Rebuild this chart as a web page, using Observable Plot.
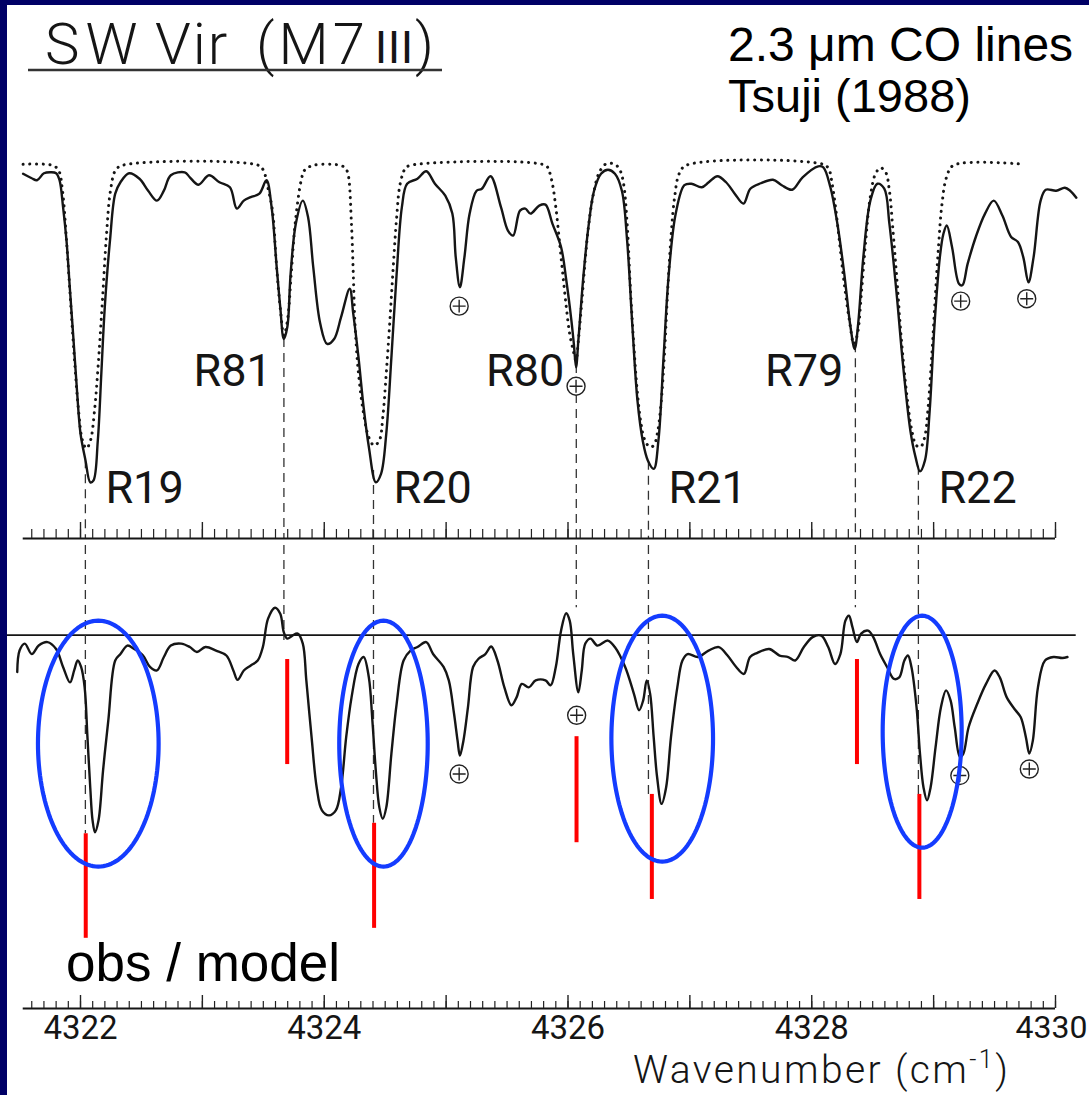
<!DOCTYPE html>
<html><head><meta charset="utf-8">
<script src="https://cdn.jsdelivr.net/npm/d3@7"></script>
<script src="https://cdn.jsdelivr.net/npm/@observablehq/plot@0.6"></script>
<style>
body{margin:0;background:#fff}
#page{position:relative;width:1089px;height:1095px;background:#fff;overflow:hidden}
#topPanel,#botPanel,#overlay{position:absolute;left:0;width:1089px}
#topPanel{top:130px}#botPanel{top:545px}#overlay{top:0;pointer-events:none}
#topPanel svg,#botPanel svg{overflow:visible;background:transparent}
.navy{position:absolute;background:#000066;z-index:5}
</style></head><body>
<div id="page">
<div id="topPanel"></div><div id="botPanel"></div>
<svg id="overlay" width="1089" height="1095"></svg>
<div class="navy" style="left:0;top:0;width:1089px;height:5px"></div>
<div class="navy" style="left:0;top:0;width:7px;height:1095px"></div>
</div>
<script>
// ---- CO line identifications ----
const lineNames = ["R19","R81","R20","R80","R21","R79","R22"];
const lineJ = [19,81,20,80,21,79,22];
const lineWn = [4322.04,4323.669,4324.404,4326.068,4326.66,4328.358,4328.875];
// red obs/model markers (ratio units)
const redWn = [4322.043,4323.696,4324.409,4326.070,4326.688,4328.371,4328.883];
const redTop = [0.601,0.951,0.622,0.796,0.680,0.951,0.680];
const redBottom = [0.391,0.740,0.411,0.583,0.469,0.740,0.469];
const dashBottom = [0.601,0.989,0.622,1.055,0.680,1.055,0.680];
// highlighted low-J lines (blue rings)
const ringWn = [4322.146,4324.486,4326.773,4328.906];
const ringRatio = [0.782,0.782,0.792,0.806];
const ringHalfWidth = [0.495,0.363,0.417,0.324];
const ringHalfHeight = [0.247,0.247,0.247,0.233];
// telluric lines
const tellTopWn = [4325.107,4326.066,4329.222,4329.764];
const tellTopFlux = [0.717,0.556,0.727,0.732];
const tellBotWn = [4325.107,4326.071,4329.215,4329.785];
const tellBotRatio = [0.721,0.839,0.718,0.731];
// axis ticks
const labelTicks = [4322,4324,4326,4328,4330];

// observed spectrum (top)
const obsWn = [4321.529,4321.600,4321.643,4321.700,4321.757,4321.800,4321.828,4321.857,4321.885,4321.914,
4321.943,4321.971,4322.000,4322.041,4322.080,4322.107,4322.142,4322.171,4322.199,4322.242,
4322.285,4322.328,4322.399,4322.484,4322.555,4322.627,4322.684,4322.741,4322.855,4322.897,
4322.968,4323.054,4323.140,4323.226,4323.283,4323.340,4323.397,4323.468,4323.526,4323.568,
4323.610,4323.639,4323.668,4323.697,4323.724,4323.767,4323.824,4323.867,4323.910,4323.967,
4324.024,4324.081,4324.138,4324.209,4324.238,4324.281,4324.323,4324.366,4324.423,4324.466,
4324.509,4324.551,4324.594,4324.637,4324.680,4324.765,4324.837,4324.908,4324.993,4325.051,
4325.079,4325.113,4325.150,4325.193,4325.250,4325.293,4325.364,4325.450,4325.507,4325.550,
4325.606,4325.650,4325.692,4325.764,4325.815,4325.872,4325.943,4325.986,4326.028,4326.048,
4326.066,4326.085,4326.128,4326.171,4326.214,4326.271,4326.328,4326.385,4326.442,4326.485,
4326.527,4326.570,4326.613,4326.655,4326.704,4326.742,4326.784,4326.827,4326.884,4326.955,
4327.012,4327.098,4327.155,4327.226,4327.297,4327.368,4327.440,4327.496,4327.582,4327.682,
4327.754,4327.839,4327.925,4328.053,4328.095,4328.153,4328.210,4328.267,4328.318,4328.352,
4328.381,4328.423,4328.481,4328.538,4328.595,4328.637,4328.694,4328.751,4328.809,4328.851,
4328.888,4328.929,4328.966,4329.008,4329.051,4329.080,4329.108,4329.151,4329.208,4329.236,
4329.279,4329.350,4329.422,4329.493,4329.564,4329.636,4329.692,4329.736,4329.778,4329.820,
4329.878,4329.920,4330.006,4330.077,4330.120,4330.171];
const obsFlux = [0.983,0.974,0.970,0.984,0.986,0.984,0.970,0.916,0.849,0.748,
0.648,0.548,0.461,0.407,0.363,0.367,0.447,0.582,0.714,0.849,
0.943,0.966,0.984,0.973,0.949,0.929,0.949,0.980,0.986,0.976,
0.961,0.980,0.966,0.956,0.913,0.929,0.936,0.943,0.970,0.916,
0.795,0.715,0.651,0.675,0.782,0.883,0.929,0.896,0.795,0.682,
0.641,0.651,0.695,0.752,0.702,0.614,0.514,0.434,0.363,0.380,
0.461,0.614,0.782,0.916,0.963,0.973,0.988,0.963,0.939,0.903,
0.815,0.755,0.815,0.903,0.949,0.953,0.978,0.916,0.869,0.859,
0.909,0.913,0.903,0.919,0.921,0.883,0.836,0.769,0.688,0.641,
0.594,0.648,0.782,0.883,0.949,0.983,0.991,0.983,0.949,0.849,
0.682,0.527,0.447,0.407,0.390,0.447,0.614,0.782,0.903,0.960,
0.963,0.956,0.966,0.978,0.966,0.943,0.923,0.953,0.964,0.971,
0.960,0.951,0.976,0.998,0.996,0.956,0.883,0.782,0.675,0.631,
0.682,0.815,0.929,0.963,0.953,0.883,0.748,0.594,0.467,0.414,
0.385,0.407,0.501,0.682,0.815,0.862,0.879,0.836,0.762,0.759,
0.802,0.859,0.903,0.929,0.899,0.856,0.846,0.815,0.765,0.815,
0.929,0.951,0.949,0.955,0.949,0.935];

// model spectrum (dotted)
const modelWn = [4321.529,4321.770,4321.820,4321.852,4321.885,4321.918,4321.951,4321.984,4322.016,4322.049,
4322.082,4322.115,4322.148,4322.180,4322.213,4322.246,4322.287,4322.345,4323.460,4323.501,
4323.534,4323.575,4323.608,4323.641,4323.669,4323.698,4323.731,4323.764,4323.811,4323.838,
4323.910,4324.133,4324.174,4324.195,4324.223,4324.238,4324.252,4324.281,4324.323,4324.366,
4324.409,4324.452,4324.480,4324.509,4324.537,4324.566,4324.594,4324.623,4324.666,4324.707,
4325.815,4325.843,4325.872,4325.900,4325.929,4325.957,4325.986,4326.014,4326.043,4326.066,
4326.085,4326.114,4326.143,4326.171,4326.214,4326.257,4326.313,4326.385,4326.427,4326.456,
4326.485,4326.513,4326.541,4326.570,4326.599,4326.627,4326.670,4326.704,4326.733,4326.761,
4326.790,4326.818,4326.847,4326.875,4326.912,4326.970,4328.095,4328.139,4328.167,4328.195,
4328.232,4328.267,4328.309,4328.346,4328.375,4328.409,4328.443,4328.480,4328.523,4328.565,
4328.607,4328.637,4328.664,4328.699,4328.736,4328.779,4328.821,4328.858,4328.893,4328.927,
4328.955,4328.984,4329.012,4329.040,4329.069,4329.106,4329.163,4329.747];
const modelFlux = [1.002,1.000,0.990,0.949,0.849,0.728,0.608,0.507,0.447,0.431,
0.447,0.507,0.608,0.728,0.859,0.949,0.990,1.000,1.000,0.990,
0.959,0.909,0.799,0.708,0.658,0.688,0.789,0.889,0.970,0.990,
1.000,1.000,0.994,0.983,0.883,0.783,0.682,0.582,0.501,0.453,
0.437,0.447,0.493,0.582,0.682,0.795,0.895,0.963,0.994,1.000,
1.000,0.990,0.963,0.916,0.849,0.782,0.715,0.661,0.628,0.608,
0.648,0.728,0.815,0.883,0.949,0.986,1.003,1.002,0.990,0.963,
0.883,0.748,0.635,0.541,0.481,0.450,0.434,0.437,0.461,0.514,
0.614,0.748,0.862,0.936,0.983,1.000,1.002,0.993,0.963,0.916,
0.836,0.762,0.688,0.641,0.661,0.748,0.849,0.936,0.983,0.995,
0.986,0.949,0.876,0.769,0.648,0.541,0.467,0.437,0.434,0.454,
0.514,0.614,0.728,0.836,0.923,0.976,1.000,1.002];

// obs / model ratio (bottom)
const ratioWn = [4321.481,4321.500,4321.543,4321.600,4321.657,4321.729,4321.800,4321.857,4321.914,4321.948,
4321.977,4322.005,4322.034,4322.057,4322.080,4322.099,4322.119,4322.148,4322.185,4322.228,
4322.285,4322.328,4322.385,4322.441,4322.513,4322.570,4322.627,4322.684,4322.741,4322.826,
4322.897,4322.955,4323.025,4323.112,4323.197,4323.254,4323.289,4323.340,4323.397,4323.454,
4323.496,4323.539,4323.596,4323.639,4323.668,4323.697,4323.739,4323.782,4323.824,4323.853,
4323.896,4323.938,4323.981,4324.039,4324.095,4324.138,4324.180,4324.224,4324.281,4324.323,
4324.366,4324.395,4324.423,4324.452,4324.480,4324.509,4324.551,4324.594,4324.651,4324.708,
4324.765,4324.837,4324.893,4324.979,4325.022,4325.065,4325.094,4325.113,4325.142,4325.179,
4325.221,4325.264,4325.322,4325.370,4325.421,4325.478,4325.536,4325.578,4325.621,4325.678,
4325.735,4325.815,4325.857,4325.900,4325.943,4325.985,4326.014,4326.043,4326.085,4326.113,
4326.142,4326.185,4326.241,4326.327,4326.384,4326.469,4326.541,4326.583,4326.617,4326.646,
4326.674,4326.703,4326.731,4326.768,4326.805,4326.845,4326.897,4326.939,4326.982,4327.067,
4327.153,4327.238,4327.309,4327.380,4327.443,4327.494,4327.550,4327.651,4327.736,4327.807,
4327.864,4327.935,4328.007,4328.078,4328.135,4328.191,4328.235,4328.276,4328.305,4328.334,
4328.371,4328.405,4328.462,4328.505,4328.561,4328.618,4328.675,4328.718,4328.760,4328.789,
4328.818,4328.860,4328.888,4328.917,4328.946,4328.975,4329.016,4329.060,4329.102,4329.139,
4329.173,4329.216,4329.244,4329.287,4329.358,4329.430,4329.500,4329.543,4329.600,4329.672,
4329.715,4329.757,4329.785,4329.814,4329.856,4329.914,4329.984,4330.056,4330.098];
const ratioVal = [0.926,0.969,0.983,0.962,0.979,0.986,0.972,0.936,0.905,0.929,
0.949,0.936,0.895,0.795,0.694,0.628,0.604,0.628,0.728,0.828,
0.949,0.962,0.979,0.972,0.959,0.936,0.929,0.956,0.979,0.983,
0.976,0.966,0.976,0.969,0.959,0.929,0.910,0.929,0.939,0.949,
0.976,1.033,1.055,1.043,1.006,0.993,0.999,1.003,0.983,0.909,
0.795,0.694,0.648,0.638,0.648,0.694,0.795,0.875,0.942,0.956,
0.915,0.828,0.728,0.654,0.631,0.654,0.762,0.862,0.949,0.969,
0.976,0.986,0.962,0.936,0.909,0.842,0.788,0.758,0.788,0.855,
0.936,0.952,0.962,0.977,0.949,0.895,0.859,0.875,0.902,0.895,
0.909,0.909,0.899,0.936,1.009,1.044,1.029,0.962,0.885,0.929,
0.983,0.993,0.979,0.989,0.976,0.936,0.882,0.849,0.869,0.909,
0.882,0.795,0.715,0.661,0.694,0.795,0.895,0.949,0.962,0.956,
0.969,0.976,0.959,0.936,0.922,0.956,0.964,0.972,0.959,0.956,
0.949,0.976,0.996,0.999,0.976,0.942,0.962,1.029,1.039,1.016,
0.986,1.003,1.009,0.996,0.962,0.936,0.912,0.915,0.949,0.959,
0.936,0.855,0.762,0.694,0.668,0.694,0.775,0.855,0.889,0.869,
0.815,0.755,0.762,0.815,0.862,0.902,0.929,0.915,0.875,0.849,
0.835,0.795,0.762,0.788,0.895,0.949,0.956,0.954,0.956];

// ---- build tables ----
const obs = obsWn.map((wn,i)=>({wn, f: obsFlux[i]}));
const model = modelWn.map((wn,i)=>({wn, f: modelFlux[i]}));
const ratio = ratioWn.map((wn,i)=>({wn, r: ratioVal[i]}));
function obsAt(w){
  const i = d3.bisector(d=>d.wn).left(obs, w);
  if (i<=0) return obs[0].f; if (i>=obs.length) return obs[obs.length-1].f;
  const a=obs[i-1], b=obs[i]; const t=(w-a.wn)/(b.wn-a.wn); return a.f+t*(b.f-a.f);
}
const lines = lineNames.map((name,i)=>({name, wn: lineWn[i], J: lineJ[i], top: obsAt(lineWn[i]),
  redWn: redWn[i], redTop: redTop[i], redBottom: redBottom[i], dashBottom: dashBottom[i]}));
const lowJ = lines.filter(d=>d.J<50), highJ = lines.filter(d=>d.J>=50);
const rings = ringWn.flatMap((cx,i)=>d3.range(0,145).map(k=>{const a=k/144*2*Math.PI;
  return {id:i, wn: cx+ringHalfWidth[i]*Math.cos(a), r: ringRatio[i]+ringHalfHeight[i]*Math.sin(a)};}));
const tellTop = tellTopWn.map((wn,i)=>({wn, f: tellTopFlux[i]}));
const tellBot = tellBotWn.map((wn,i)=>({wn, r: tellBotRatio[i]}));
const minorTicks = d3.range(43216,43301).map(d=>d/10);
const majorTicks = d3.range(4322,4331);
const innerLabels = labelTicks.slice(0,-1), edgeLabel = labelTicks.slice(-1);

const circledPlus = {draw(ctx,size){const r=Math.sqrt(size/Math.PI);ctx.moveTo(r,0);ctx.arc(0,0,r,0,2*Math.PI);ctx.closePath();
  const a=r*0.72;ctx.moveTo(-a,0);ctx.lineTo(a,0);ctx.moveTo(0,-a);ctx.lineTo(0,a);}};

const ink = "#151515";
const font = "Roboto, 'DejaVu Sans', sans-serif";
const common = {width:1089, marginLeft:80, marginRight:34,
  x:{domain:[4322,4330], axis:null, label:null},
  style:{fontFamily:font, fontWeight:400, background:"transparent", overflow:"visible", color:ink}};

// ---- top panel: observed + model ----
const topH = 415, topMB = 7, topInner = topH - topMB;
const topPlot = Plot.plot({...common, height: topH, marginTop:0, marginBottom: topMB,
  y:{domain:[0.25,1.07], axis:null, label:null},
  marks:[
    Plot.ruleX(lines, {x:"wn", y1:"top", y2:0.25, stroke:"#333", strokeWidth:1.3, strokeDasharray:"9,6"}),
    Plot.line(model, {x:"wn", y:"f", curve:"catmull-rom", stroke:ink, strokeWidth:3, strokeDasharray:"0.1,6.6", strokeLinecap:"round"}),
    Plot.line(obs, {x:"wn", y:"f", curve:"catmull-rom", stroke:ink, strokeWidth:2.4}),
    Plot.dot(tellTop, {x:"wn", y:"f", r:9, symbol:circledPlus, fill:"white", stroke:"#222", strokeWidth:1.4}),
    Plot.text(lowJ, {x:"wn", y:()=>0.322, text:"name", textAnchor:"start", lineAnchor:"bottom", dx:20, fontSize:45, fill:ink}),
    Plot.text(highJ, {x:"wn", y:()=>0.557, text:"name", textAnchor:"end", lineAnchor:"bottom", dx:-12, fontSize:45, fill:ink}),
    Plot.ruleY([0.25], {x1:4321.53, x2:4330.0, stroke:ink, strokeWidth:2}),
    Plot.tickX(minorTicks, {x:d=>d, insetTop: topInner-9, stroke:"#222", strokeWidth:1.2}),
    Plot.tickX(majorTicks, {x:d=>d, insetTop: topInner-16, stroke:"#222", strokeWidth:1.4})
  ]});
document.getElementById("topPanel").appendChild(topPlot);

// ---- bottom panel: obs / model ratio ----
const botH = 550, botMB = 87, botInner = botH - botMB;
const botPlot = Plot.plot({...common, height: botH, marginTop:0, marginBottom: botMB,
  y:{domain:[0.25,1.18], axis:null, label:null},
  marks:[
    Plot.ruleY([1], {x1:4321.40, x2:4330.17, stroke:ink, strokeWidth:1.8}),
    Plot.ruleX(lines, {x:"wn", y1:1.18, y2:"dashBottom", stroke:"#333", strokeWidth:1.3, strokeDasharray:"9,6"}),
    Plot.line(ratio, {x:"wn", y:"r", curve:"catmull-rom", stroke:ink, strokeWidth:2.4}),
    Plot.dot(tellBot, {x:"wn", y:"r", r:9, symbol:circledPlus, fill:"white", stroke:"#222", strokeWidth:1.4}),
    Plot.ruleX(lines, {x:"redWn", y1:"redTop", y2:"redBottom", stroke:"#ff0000", strokeWidth:4}),
    Plot.line(rings, {x:"wn", y:"r", z:"id", stroke:"#143cff", strokeWidth:4.2}),
    Plot.ruleY([0.25], {x1:4321.53, x2:4330.0, stroke:ink, strokeWidth:2}),
    Plot.tickX(minorTicks, {x:d=>d, insetTop: botInner-7, stroke:"#222", strokeWidth:1.2}),
    Plot.tickX(majorTicks, {x:d=>d, insetTop: botInner-13, stroke:"#222", strokeWidth:1.4}),
    Plot.text(innerLabels, {x:d=>d, y:()=>0.25, text:d=>String(d), lineAnchor:"top", dy:7, fontSize:33, fill:ink}),
    Plot.text(edgeLabel, {x:d=>d, y:()=>0.25, text:d=>String(d), lineAnchor:"top", textAnchor:"end", dx:32, dy:7, fontSize:32, fill:ink})
  ]});
document.getElementById("botPanel").appendChild(botPlot);

// ---- titles and captions ----
const ov = d3.select("#overlay");
function txt(x,y,s,size,fam,weight){return ov.append("text").attr("x",x).attr("y",y).attr("font-size",size)
  .attr("font-family",fam).attr("font-weight",weight||400).attr("fill",ink).text(s);}
txt(45,64,"SW",58,font,300).attr("letter-spacing",6);
txt(155,64,"Vir",58,font,300).attr("letter-spacing",2);
txt(256,64,"(M7",58,font,300).attr("letter-spacing",4);
txt(372,63,"Ⅲ",44,"'Noto Sans CJK JP', 'DejaVu Sans', sans-serif",400);
txt(415,64,")",58,font,300);
ov.append("line").attr("x1",28).attr("x2",442).attr("y1",70).attr("y2",70).attr("stroke","#333").attr("stroke-width",2.5);
const arial = "'Liberation Sans', Arial, sans-serif";
txt(728,61,"2.3 μm CO lines",48,arial).attr("fill","#000");
txt(728,112,"Tsuji (1988)",47,arial).attr("fill","#000");
txt(66,981,"obs / model",53,arial).attr("fill","#000");
const wl = txt(633,1083,"Wavenumber (cm",39,font,300).attr("letter-spacing",2.4);
wl.append("tspan").attr("font-size",25).attr("dy",-15).text("-1");
wl.append("tspan").attr("dy",15).text(")");
</script>
</body></html>
